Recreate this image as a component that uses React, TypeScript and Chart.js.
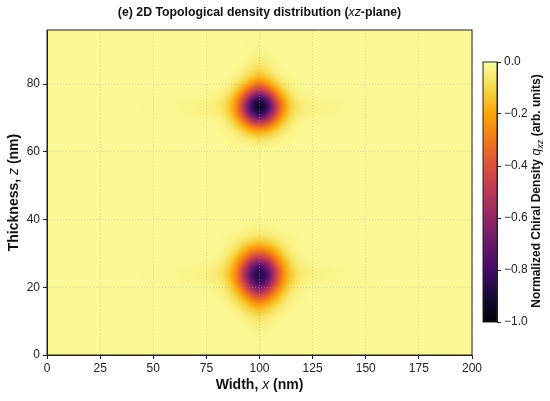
import { useEffect, useRef } from "react"
import { Chart, registerables } from "chart.js"

Chart.register(...registerables)

// axis ranges (nm)
const xRange = [0, 200]
const zRange = [0, 96]
const xTickStep = 25
const zTickStep = 20

// colour bar ticks
const cbarRange = [-1, 0]
const cbarStep = 0.2

// chiral density blobs (two skyrmion-like cores)
const blobX = [100, 100]
const blobZ = [23.8, 73.2]
const blobDepth = [-0.78, -0.84]
const blobWidthX = [7.0, 6.7]
const blobWidthZ = [4.9, 4.1]

// faint horizontal streak through each core
const streakDepth = [-0.04, -0.04]
const streakWidthX = [22, 22]
const streakWidthZ = [2.4, 2.4]

// faint tail leaving each core (down for the lower one, up for the upper one)
const tailShiftZ = [-6, 6]
const tailDepth = [-0.07, -0.08]
const tailWidthX = [4, 4]
const tailWidthZ = [5.5, 5.5]

// inferno colour map
const infernoStops: [number, number, number][] = [
  [0, 0, 4], [22, 11, 57], [66, 10, 104], [106, 23, 110], [147, 38, 103],
  [188, 55, 84], [221, 81, 58], [243, 120, 25], [252, 165, 10], [246, 215, 70],
  [252, 255, 164],
]

const FONT = "'Liberation Sans', Arial, sans-serif"

function inferno(t: number): [number, number, number] {
  const v = Math.min(1, Math.max(0, t)) * (infernoStops.length - 1)
  const i = Math.min(infernoStops.length - 2, Math.floor(v))
  const f = v - i
  const a = infernoStops[i]
  const b = infernoStops[i + 1]
  return [a[0] + (b[0] - a[0]) * f, a[1] + (b[1] - a[1]) * f, a[2] + (b[2] - a[2]) * f]
}

function density(x: number, z: number): number {
  let q = 0
  for (let k = 0; k < blobX.length; k++) {
    const dx = x - blobX[k]
    const dz = z - blobZ[k]
    q += blobDepth[k] * Math.exp(-0.5 * ((dx / blobWidthX[k]) ** 2 + (dz / blobWidthZ[k]) ** 2))
    q += streakDepth[k] * Math.exp(-0.5 * ((dx / streakWidthX[k]) ** 2 + (dz / streakWidthZ[k]) ** 2))
    const tz = dz - tailShiftZ[k]
    q += tailDepth[k] * Math.exp(-0.5 * ((dx / tailWidthX[k]) ** 2 + (tz / tailWidthZ[k]) ** 2))
  }
  return Math.max(-1, Math.min(0, q - 0.015))
}

function buildImage(): HTMLCanvasElement {
  const nx = xRange[1] - xRange[0]
  const nz = zRange[1] - zRange[0]
  const off = document.createElement("canvas")
  off.width = nx
  off.height = nz
  const octx = off.getContext("2d")!
  const img = octx.createImageData(nx, nz)
  for (let j = 0; j < nz; j++) {
    const z = zRange[1] - j - 0.5
    for (let i = 0; i < nx; i++) {
      const x = xRange[0] + i + 0.5
      const [r, g, b] = inferno(1 + density(x, z))
      const p = (j * nx + i) * 4
      img.data[p] = r
      img.data[p + 1] = g
      img.data[p + 2] = b
      img.data[p + 3] = 255
    }
  }
  octx.putImageData(img, 0, 0)
  return off
}

type Part = { t: string; font: string; dy?: number }

function drawRich(ctx: CanvasRenderingContext2D, parts: Part[], x: number, y: number, angle = 0) {
  ctx.save()
  ctx.translate(x, y)
  ctx.rotate(angle)
  ctx.textBaseline = "middle"
  ctx.textAlign = "left"
  ctx.fillStyle = "#111"
  let total = 0
  parts.forEach((p) => {
    ctx.font = p.font
    total += ctx.measureText(p.t).width
  })
  let cx = -total / 2
  parts.forEach((p) => {
    ctx.font = p.font
    ctx.fillText(p.t, cx, p.dy || 0)
    cx += ctx.measureText(p.t).width
  })
  ctx.restore()
}

function fmtMinus(v: number, digits: number) {
  const s = Math.abs(v) < 1e-9 ? (0).toFixed(digits) : v.toFixed(digits)
  return s.replace("-", "\u2212")
}

export default function App() {
  const mainRef = useRef<HTMLCanvasElement>(null)
  const barRef = useRef<HTMLCanvasElement>(null)

  useEffect(() => {
    document.body.style.margin = "0"
    if (!mainRef.current || !barRef.current) return
    const heat = buildImage()

    const heatmapPlugin = {
      id: "heatmap",
      beforeDraw(chart: Chart) {
        const { ctx, scales } = chart
        const x0 = scales.x.getPixelForValue(xRange[0])
        const x1 = scales.x.getPixelForValue(xRange[1])
        const y0 = scales.y.getPixelForValue(zRange[1])
        const y1 = scales.y.getPixelForValue(zRange[0])
        ctx.save()
        ctx.imageSmoothingEnabled = true
        ctx.imageSmoothingQuality = "high"
        ctx.drawImage(heat, x0, y0, x1 - x0, y1 - y0)
        ctx.restore()
      },
      afterDraw(chart: Chart) {
        const { ctx, chartArea: a } = chart
        ctx.save()
        ctx.strokeStyle = "#222"
        ctx.lineWidth = 1
        ctx.strokeRect(a.left, a.top, a.right - a.left, a.bottom - a.top)
        ctx.restore()
        const cx = (a.left + a.right) / 2
        drawRich(ctx, [
          { t: "(e) 2D Topological density distribution (", font: `bold 12.3px ${FONT}` },
          { t: "xz", font: `italic 12.3px ${FONT}` },
          { t: "-plane)", font: `bold 12.3px ${FONT}` },
        ], cx, 13)
        drawRich(ctx, [
          { t: "Width, ", font: `bold 14px ${FONT}` },
          { t: "x", font: `italic 14px ${FONT}` },
          { t: " (nm)", font: `bold 14px ${FONT}` },
        ], cx, 385)
        drawRich(ctx, [
          { t: "Thickness, ", font: `bold 14px ${FONT}` },
          { t: "z", font: `italic 14px ${FONT}` },
          { t: " (nm)", font: `bold 14px ${FONT}` },
        ], 14, (a.top + a.bottom) / 2, -Math.PI / 2)
      },
    }

    const gridStyle = {
      color: "rgba(160,160,160,0.5)",
      lineWidth: 0.8,
      tickColor: "#222",
      tickLength: 4,
      tickWidth: 1,
    }

    const main = new Chart(mainRef.current, {
      type: "scatter",
      data: { datasets: [{ data: [] }] },
      plugins: [heatmapPlugin],
      options: {
        animation: false,
        responsive: false,
        events: [],
        layout: { padding: { top: 30, right: 78, left: 0, bottom: 0 } },
        plugins: { legend: { display: false }, tooltip: { enabled: false } },
        scales: {
          x: {
            type: "linear",
            min: xRange[0],
            max: xRange[1],
            afterFit: (s: any) => { s.height = 46 },
            ticks: { stepSize: xTickStep, padding: 2, color: "#222", font: { family: FONT, size: 12 }, maxRotation: 0 },
            grid: gridStyle,
            border: { color: "#222", dash: [1, 2] },
          },
          y: {
            type: "linear",
            min: zRange[0],
            max: zRange[1],
            afterFit: (s: any) => { s.width = 47 },
            ticks: { stepSize: zTickStep, includeBounds: false, padding: 3, color: "#222", font: { family: FONT, size: 12 } },
            grid: gridStyle,
            border: { color: "#222", dash: [1, 2] },
          },
        },
      },
    })

    const barPlugin = {
      id: "colourbar",
      beforeDraw(chart: Chart) {
        const { ctx, chartArea: a, scales } = chart
        const yTop = scales.y.getPixelForValue(cbarRange[1])
        const yBot = scales.y.getPixelForValue(cbarRange[0])
        const g = ctx.createLinearGradient(0, yBot, 0, yTop)
        infernoStops.forEach((c, i) => g.addColorStop(i / (infernoStops.length - 1), `rgb(${c[0]},${c[1]},${c[2]})`))
        ctx.save()
        ctx.fillStyle = g
        ctx.fillRect(a.left, yTop, a.right - a.left, yBot - yTop)
        ctx.restore()
      },
      afterDraw(chart: Chart) {
        const { ctx, chartArea: a } = chart
        ctx.save()
        ctx.strokeStyle = "#222"
        ctx.lineWidth = 1
        ctx.strokeRect(a.left, a.top, a.right - a.left, a.bottom - a.top)
        ctx.restore()
        drawRich(ctx, [
          { t: "Normalized Chiral Density ", font: `bold 12px ${FONT}` },
          { t: "q", font: `italic 12.5px ${FONT}` },
          { t: "xz", font: `italic 9px ${FONT}`, dy: 3 },
          { t: " (arb. units)", font: `bold 12px ${FONT}` },
        ], 97, 191, -Math.PI / 2)
      },
    }

    const bar = new Chart(barRef.current, {
      type: "scatter",
      data: { datasets: [{ data: [] }] },
      plugins: [barPlugin],
      options: {
        animation: false,
        responsive: false,
        events: [],
        layout: { padding: { top: 62, right: 0, left: 43, bottom: 79 } },
        plugins: { legend: { display: false }, tooltip: { enabled: false } },
        scales: {
          x: { type: "linear", display: false },
          y: {
            type: "linear",
            position: "right",
            min: cbarRange[0],
            max: cbarRange[1],
            afterFit: (s: any) => { s.width = 53 },
            ticks: {
              stepSize: cbarStep,
              padding: 3,
              color: "#222",
              font: { family: FONT, size: 12 },
              callback: (v: any) => fmtMinus(Number(v), 1),
            },
            grid: { drawOnChartArea: false, tickColor: "#222", tickLength: 4 },
            border: { color: "#222" },
          },
        },
      },
    })

    return () => {
      main.destroy()
      bar.destroy()
    }
  }, [])

  return (
    <div style={{ position: "relative", width: 550, height: 401, background: "#fff" }}>
      <canvas ref={mainRef} width={550} height={401} style={{ position: "absolute", left: 0, top: 0 }} />
      <canvas ref={barRef} width={110} height={401} style={{ position: "absolute", left: 440, top: 0 }} />
    </div>
  )
}
